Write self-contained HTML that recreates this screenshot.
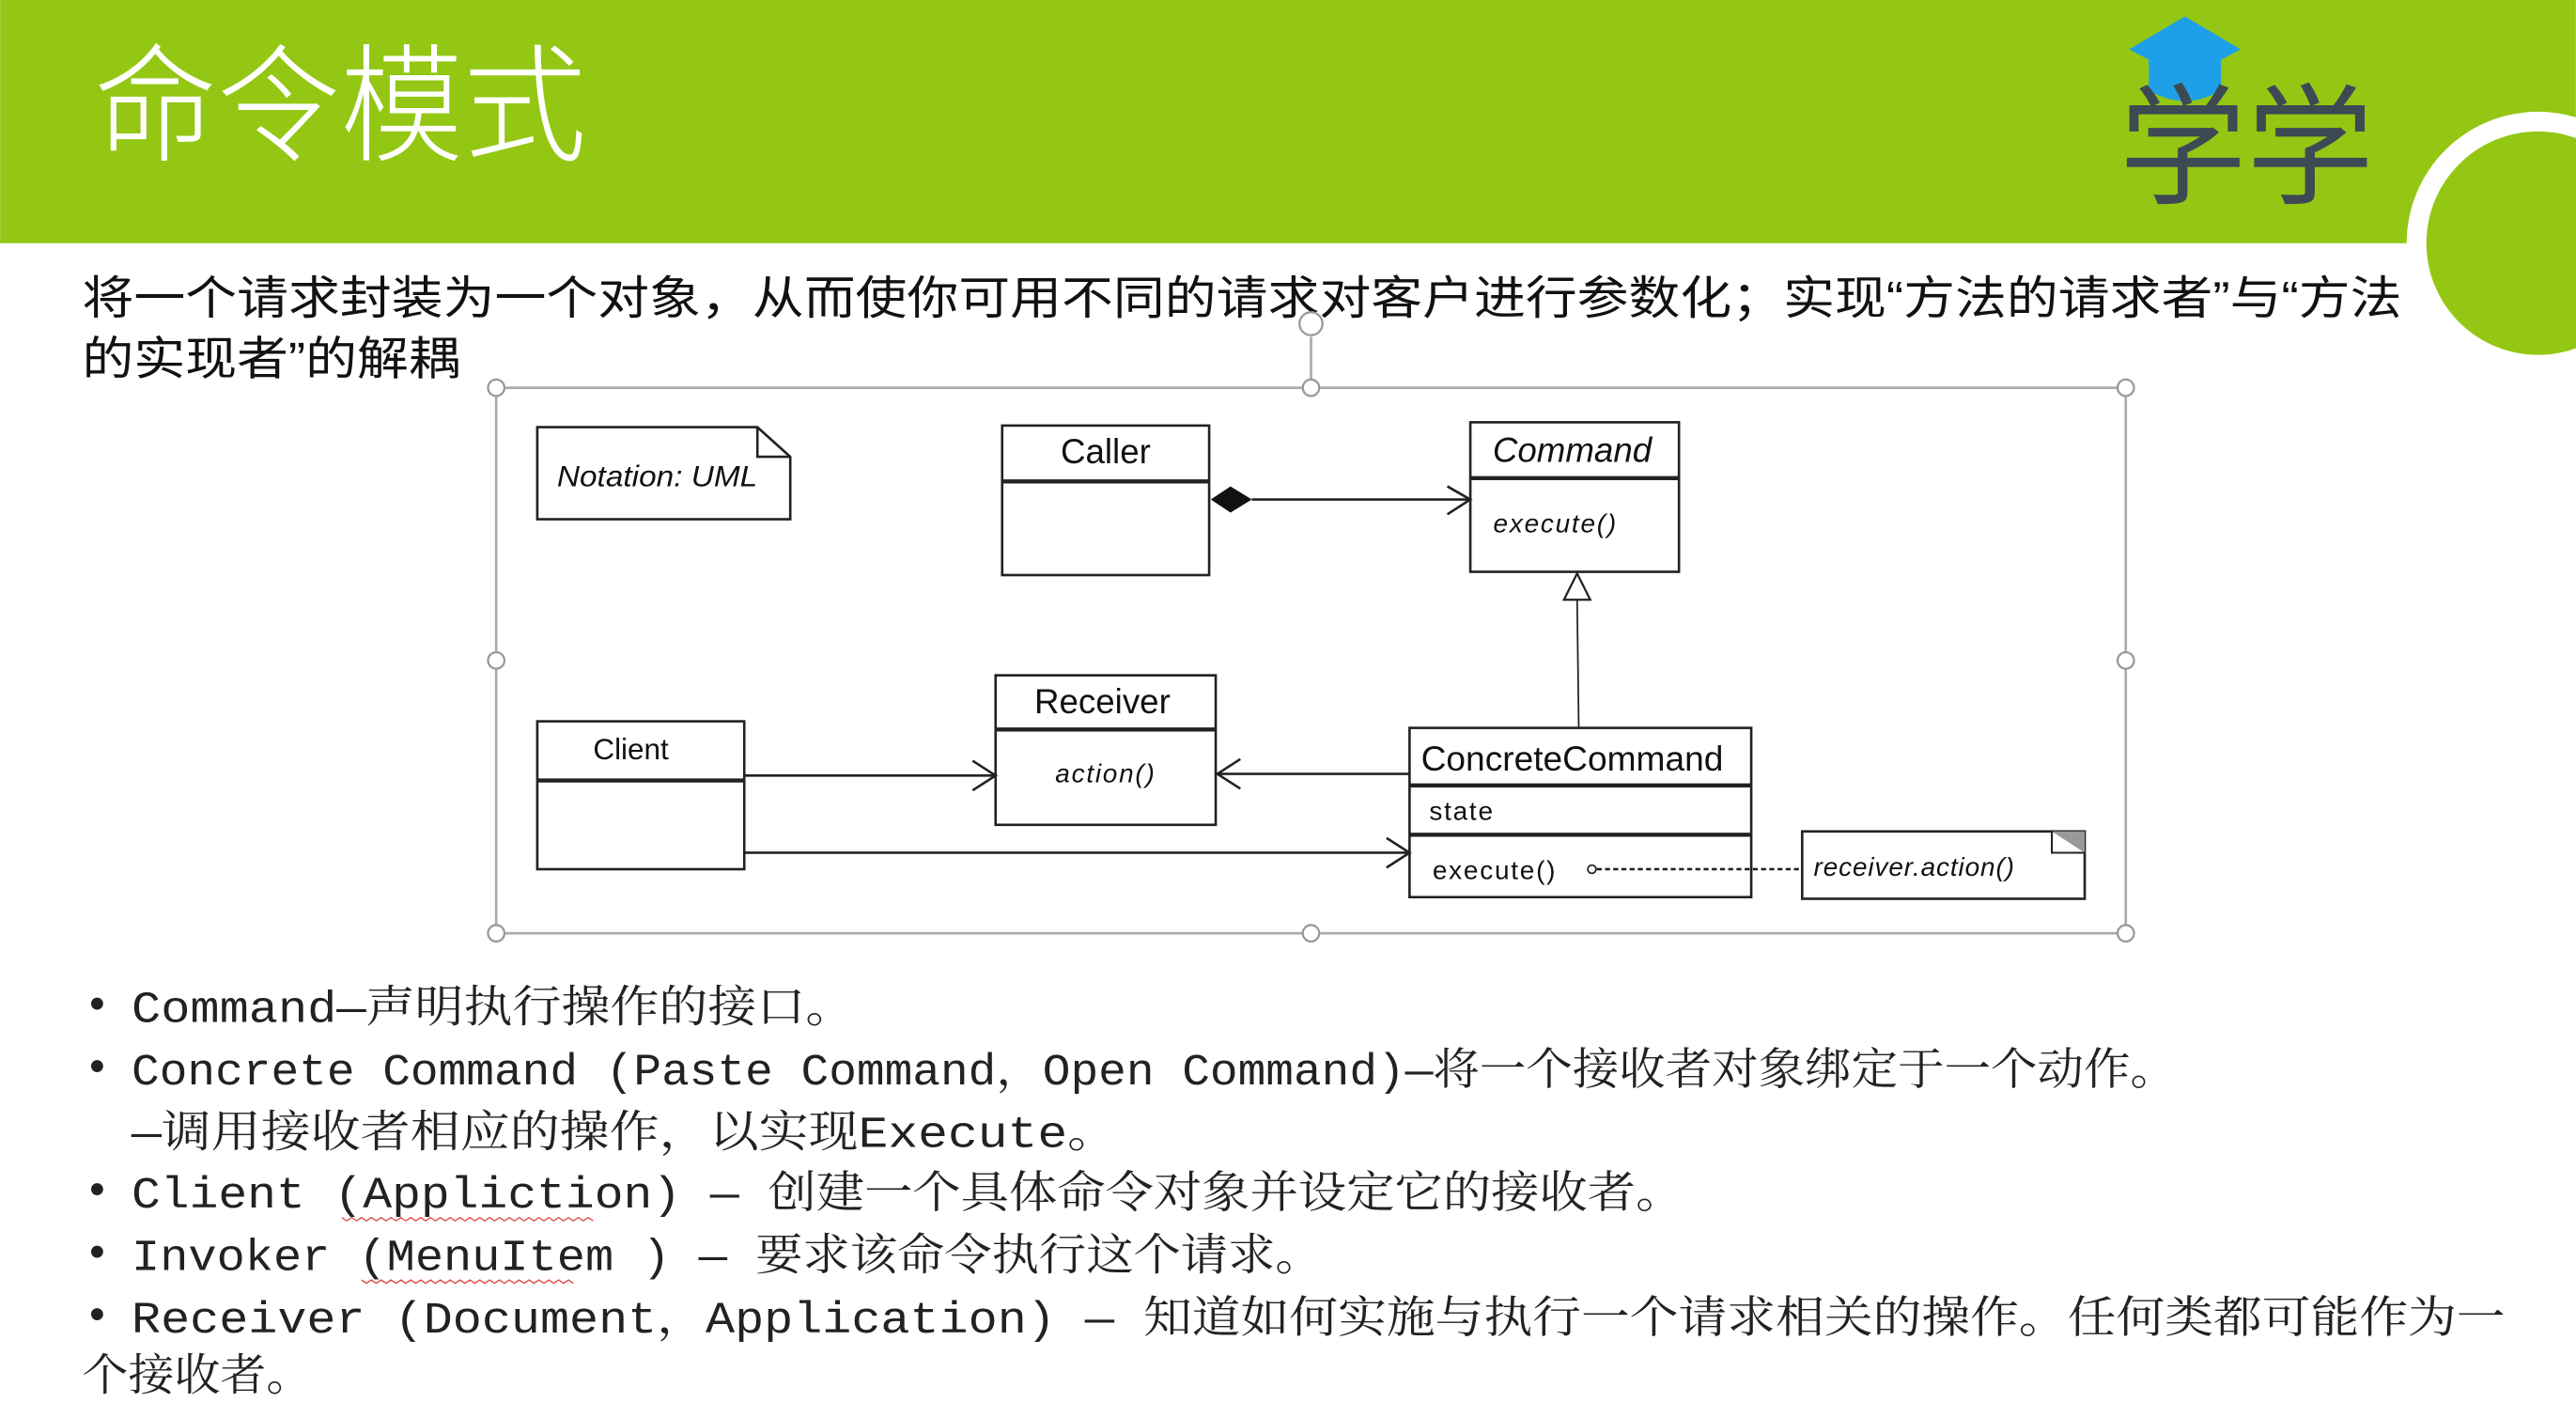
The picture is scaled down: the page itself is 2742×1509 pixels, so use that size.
<!DOCTYPE html>
<html><head><meta charset="utf-8">
<style>
html,body{margin:0;padding:0;background:#fff;overflow:hidden}
svg{display:block}
.cjk{font-family:"Liberation Sans","Noto Sans CJK SC",sans-serif}
.ser{font-family:"Liberation Mono","Noto Serif CJK SC",serif}
.uml{font-family:"Liberation Sans",sans-serif}
</style></head>
<body>
<svg width="2742" height="1509" viewBox="0 0 1568 863" xmlns="http://www.w3.org/2000/svg">
<rect x="0" y="0" width="1568" height="863" fill="#fff"/>
<rect x="0" y="0" width="1568" height="148" fill="#93c713"/>
<text class="cjk" x="57" y="92" font-size="78" font-weight="300" fill="#fff" textLength="300" lengthAdjust="spacingAndGlyphs">命令模式</text>
<!-- right circle -->
<circle cx="1545" cy="148" r="80" fill="#fff"/>
<circle cx="1545" cy="148" r="68" fill="#93c713"/>
<!-- logo -->
<polygon points="1296,30 1330,10 1364,30 1330,48" fill="#1ea0e8"/>
<path d="M1308,34 L1308,55 Q1330,68 1352,55 L1352,34 L1330,46 Z" fill="#1ea0e8"/>
<text class="cjk" x="1290" y="118" font-size="80" fill="#3d4a54" textLength="155" lengthAdjust="spacingAndGlyphs">学学</text>
<!-- subtitle -->
<text class="cjk" x="50" y="191" font-size="28" fill="#111" textLength="1412" lengthAdjust="spacingAndGlyphs">将一个请求封装为一个对象，从而使你可用不同的请求对客户进行参数化；实现“方法的请求者”与“方法</text>
<text class="cjk" x="50" y="228" font-size="28" fill="#111" textLength="230" lengthAdjust="spacingAndGlyphs">的实现者”的解耦</text>
<!-- frame -->
<g stroke="#aaa" stroke-width="1.5" fill="none">
<rect x="302" y="236" width="992" height="332"/>
<line x1="798" y1="236" x2="798" y2="205"/>
</g>
<g fill="#fff" stroke="#999" stroke-width="1.3">
<circle cx="302" cy="236" r="5"/><circle cx="798" cy="236" r="5"/><circle cx="1294" cy="236" r="5"/>
<circle cx="302" cy="402" r="5"/><circle cx="1294" cy="402" r="5"/>
<circle cx="302" cy="568" r="5"/><circle cx="798" cy="568" r="5"/><circle cx="1294" cy="568" r="5"/>
<circle cx="798" cy="197" r="7"/>
</g>
<!-- UML -->
<g stroke="#222" stroke-width="1.5" fill="#fff">
<path d="M327,260 L461,260 L481,278 L481,316 L327,316 Z"/>
<path d="M461,260 L461,278 L481,278" fill="none"/>
<rect x="610" y="259" width="126" height="91"/><line x1="610" y1="293" x2="736" y2="293" stroke-width="2.5"/>
<rect x="895" y="257" width="127" height="91"/><line x1="895" y1="291" x2="1022" y2="291" stroke-width="2.5"/>
<rect x="606" y="411" width="134" height="91"/><line x1="606" y1="444" x2="740" y2="444" stroke-width="2.5"/>
<rect x="327" y="439" width="126" height="90"/><line x1="327" y1="475" x2="453" y2="475" stroke-width="2.5"/>
<rect x="858" y="443" width="208" height="103"/><line x1="858" y1="478" x2="1066" y2="478" stroke-width="2.5"/><line x1="858" y1="508" x2="1066" y2="508" stroke-width="2.5"/>
<rect x="1097" y="506" width="172" height="41"/>
</g>
<polygon points="1249,506 1269,506 1269,519" fill="#999"/>
<path d="M1249,506 L1249,519 L1269,519" fill="none" stroke="#222" stroke-width="1.2"/>
<g stroke="#222" stroke-width="1.5" fill="none">
<line x1="762" y1="304" x2="895" y2="304"/>
<path d="M881,296 L895,304 L881,313"/>
<line x1="960" y1="365" x2="961" y2="443" stroke-width="1"/>
<line x1="453" y1="472" x2="606" y2="472"/>
<path d="M592,463 L606,472 L592,481"/>
<line x1="740" y1="471" x2="858" y2="471"/>
<path d="M755,462 L741,471 L755,480"/>
<line x1="453" y1="519" x2="858" y2="519"/>
<path d="M844,510 L858,519 L844,528"/>
<line x1="972" y1="529" x2="1097" y2="529" stroke-dasharray="3,2"/>
</g>
<polygon points="737,304 749,296 762,304 749,312" fill="#111"/>
<polygon points="960,349 952,365 968,365" fill="#fff" stroke="#222" stroke-width="1.3"/>
<circle cx="969" cy="529" r="2.5" fill="#fff" stroke="#222"/>
<g class="uml" fill="#111">
<text x="339" y="296" font-size="18" font-style="italic" textLength="122" lengthAdjust="spacingAndGlyphs">Notation: UML</text>
<text x="673" y="282" font-size="21" text-anchor="middle">Caller</text>
<text x="957" y="281" font-size="21" font-style="italic" text-anchor="middle">Command</text>
<text x="909" y="324" font-size="16" font-style="italic" letter-spacing="1">execute()</text>
<text x="671" y="434" font-size="21" text-anchor="middle">Receiver</text>
<text x="673" y="476" font-size="16" font-style="italic" text-anchor="middle" letter-spacing="1">action()</text>
<text x="384" y="462" font-size="18" text-anchor="middle">Client</text>
<text x="865" y="469" font-size="21" textLength="184" lengthAdjust="spacingAndGlyphs">ConcreteCommand</text>
<text x="870" y="499" font-size="16" letter-spacing="1">state</text>
<text x="872" y="535" font-size="16" letter-spacing="1">execute()</text>
<text x="1104" y="533" font-size="16" font-style="italic" letter-spacing="0.5">receiver.action()</text>
</g>
<!-- bullets -->
<g class="ser" fill="#222" font-size="27">
<text x="51" y="620">•</text><text x="80" y="622" textLength="440" lengthAdjust="spacingAndGlyphs">Command—声明执行操作的接口。</text>
<text x="51" y="658">•</text><text x="80" y="660" textLength="1245" lengthAdjust="spacingAndGlyphs">Concrete Command (Paste Command，Open Command)—将一个接收者对象绑定于一个动作。</text>
<text x="80" y="698" textLength="600" lengthAdjust="spacingAndGlyphs">—调用接收者相应的操作，以实现Execute。</text>
<text x="51" y="733">•</text><text x="80" y="735" textLength="945" lengthAdjust="spacingAndGlyphs">Client (Appliction) — 创建一个具体命令对象并设定它的接收者。</text>
<text x="51" y="771">•</text><text x="80" y="773" textLength="725" lengthAdjust="spacingAndGlyphs">Invoker (MenuItem ) — 要求该命令执行这个请求。</text>
<text x="51" y="809">•</text><text x="80" y="811" textLength="1445" lengthAdjust="spacingAndGlyphs">Receiver (Document，Application) — 知道如何实施与执行一个请求相关的操作。任何类都可能作为一</text>
<text x="50" y="846" textLength="140" lengthAdjust="spacingAndGlyphs">个接收者。</text>
</g>
<path d="M208,741 l3,2 l3,-2 l3,2 l3,-2 l3,2 l3,-2 l3,2 l3,-2 l3,2 l3,-2 l3,2 l3,-2 l3,2 l3,-2 l3,2 l3,-2 l3,2 l3,-2 l3,2 l3,-2 l3,2 l3,-2 l3,2 l3,-2 l3,2 l3,-2 l3,2 l3,-2 l3,2 l3,-2 l3,2 l3,-2 l3,2 l3,-2 l3,2 l3,-2 l3,2 l3,-2 l3,2 l3,-2 l3,2 l3,-2 l3,2 l3,-2 l3,2 l3,-2 l3,2 l3,-2 l3,2 l3,-2 l3,2" fill="none" stroke="#e05050" stroke-width="0.8"/>
<path d="M220,779 l3,2 l3,-2 l3,2 l3,-2 l3,2 l3,-2 l3,2 l3,-2 l3,2 l3,-2 l3,2 l3,-2 l3,2 l3,-2 l3,2 l3,-2 l3,2 l3,-2 l3,2 l3,-2 l3,2 l3,-2 l3,2 l3,-2 l3,2 l3,-2 l3,2 l3,-2 l3,2 l3,-2 l3,2 l3,-2 l3,2 l3,-2 l3,2 l3,-2 l3,2 l3,-2 l3,2 l3,-2 l3,2 l3,-2 l3,2" fill="none" stroke="#e05050" stroke-width="0.8"/>
</svg>
</body></html>
